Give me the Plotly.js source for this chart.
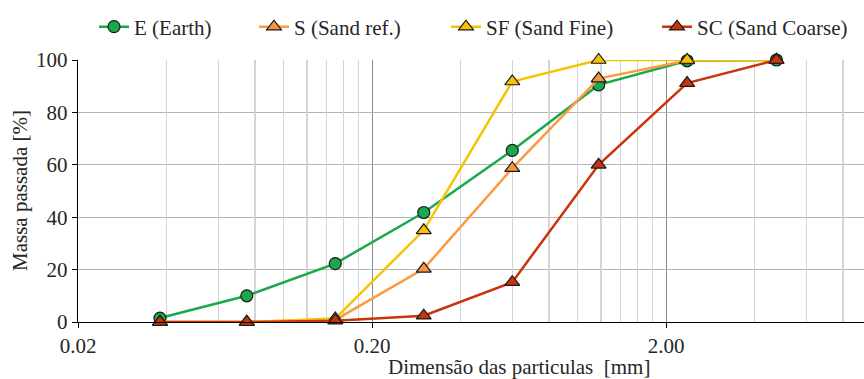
<!DOCTYPE html>
<html>
<head>
<meta charset="utf-8">
<script src="https://cdn.plot.ly/plotly-3.0.1.min.js"></script>
<style>html,body{margin:0;padding:0;background:#fff;}#chart{width:864px;height:379px;}</style>
</head>
<body>
<div id="chart"></div>
<script>
// Sieve sizes [mm]
const sizes = [0.038, 0.075, 0.15, 0.3, 0.6, 1.18, 2.36, 4.75];
// Passing mass [%]
const earth      = [1.5, 10.0, 22.3, 41.8, 65.5, 90.5, 99.7, 100];
const sandRef    = [0.0, 0.0, 0.8, 20.3, 58.7, 92.9, 99.8, 100];
const sandFine   = [0.0, 0.0, 1.3, 35.0, 91.8, 100, 100, 100];
const sandCoarse = [0.0, 0.0, 0.5, 2.4, 15.2, 60.0, 91.2, 100];

const names = ["E (Earth)", "S (Sand ref.)", "SF (Sand Fine)", "SC (Sand Coarse)"];
const majorTicks = [0.02, 0.2, 2];
const majorText = ["0.02", "0.20", "2.00"];
const minorTicks = [];
[0.02, 0.2, 2].forEach(d => { for (let k = 2; k <= 9; k++) minorTicks.push(+(d * k).toFixed(4)); });
const minorText = minorTicks.map(() => "");
const yTicks = [0, 20, 40, 60, 80, 100];

const FONT = "Liberation Serif";
const FS = 21;
const TXT = "#262626";

function tr(y, name, color, fill, symbol, size, legend) {
  return {
    x: sizes, y: y, name: name, type: "scatter", mode: "lines+markers",
    line: {color: color, width: 2.5},
    marker: {symbol: symbol, size: size, color: fill, line: {color: "#1a1a1a", width: 1.2}},
    cliponaxis: false, legend: legend
  };
}

const data = [
  // carrier for the minor-grid axis (no visible marks)
  {x: [minorTicks[0]], y: [null], xaxis: "x2", yaxis: "y", type: "scatter", mode: "markers",
   showlegend: false, hoverinfo: "skip", marker: {opacity: 0}},
  tr(earth, names[0], "#1aa84c", "#1aa84c", "circle", 12, "legend"),
  tr(sandRef, names[1], "#fb9a3e", "#f7963c", "triangle-up", 13, "legend2"),
  tr(sandFine, names[2], "#f5c400", "#f5c400", "triangle-up", 13, "legend3"),
  tr(sandCoarse, names[3], "#c8340c", "#c8340c", "triangle-up", 13, "legend4")
];

function leg(x) {
  return {x: x, xref: "paper", y: 1.126, yanchor: "middle", xanchor: "left",
    orientation: "h", bgcolor: "rgba(0,0,0,0)", borderwidth: 0,
    font: {family: FONT, size: FS, color: TXT}};
}
const W = 786, L = 78;
function px(p) { return (p - L) / W; }
const xRange = [Math.log10(0.02), Math.log10(0.02 * Math.pow(10, W / 294))];

const layout = {
  width: 864, height: 379,
  margin: {l: 78, r: 0, t: 60, b: 57},
  paper_bgcolor: "#fff", plot_bgcolor: "#fff",
  showlegend: true,
  legend: leg(px(94)), legend2: leg(px(254)), legend3: leg(px(446)), legend4: leg(px(657)),
  font: {family: FONT, size: FS, color: TXT},
  xaxis: {
    type: "log", range: xRange,
    tickmode: "array", tickvals: majorTicks, ticktext: majorText,
    showgrid: true, gridcolor: "#8c8c8c", gridwidth: 1,
    showline: true, linecolor: "#000", linewidth: 1.2,
    ticks: "outside", ticklen: 5, tickcolor: "#000", tickwidth: 1,
    tickfont: {family: FONT, size: FS, color: TXT},
    zeroline: false, fixedrange: true
  },
  xaxis2: {
    type: "log", range: xRange, overlaying: "x", anchor: "y",
    tickmode: "array", tickvals: minorTicks, ticktext: minorText,
    showgrid: true, gridcolor: "#d4d4d4", gridwidth: 1.5,
    showline: false, ticks: "", showticklabels: false,
    zeroline: false, fixedrange: true
  },
  yaxis: {
    range: [0, 100],
    tickmode: "array", tickvals: yTicks,
    showgrid: true, gridcolor: "#b4b4b4", gridwidth: 1.3,
    showline: true, linecolor: "#000", linewidth: 1.2,
    ticks: "outside", ticklen: 5, tickcolor: "#000", tickwidth: 1,
    tickfont: {family: FONT, size: FS, color: TXT},
    zeroline: false, fixedrange: true
  },
  annotations: [
    {text: "Dimensão das particulas  [mm]", xref: "paper", yref: "paper",
     x: px(519), y: 0, yshift: -45, xanchor: "center", yanchor: "middle", showarrow: false,
     font: {family: FONT, size: FS, color: TXT}},
    {text: "Massa passada [%]", xref: "paper", yref: "paper", textangle: -90,
     x: 0, xshift: -58, y: 0.5, xanchor: "center", yanchor: "middle", showarrow: false,
     font: {family: FONT, size: FS, color: TXT}}
  ]
};

Plotly.newPlot("chart", data, layout, {staticPlot: true, displayModeBar: false});
</script>
</body>
</html>
